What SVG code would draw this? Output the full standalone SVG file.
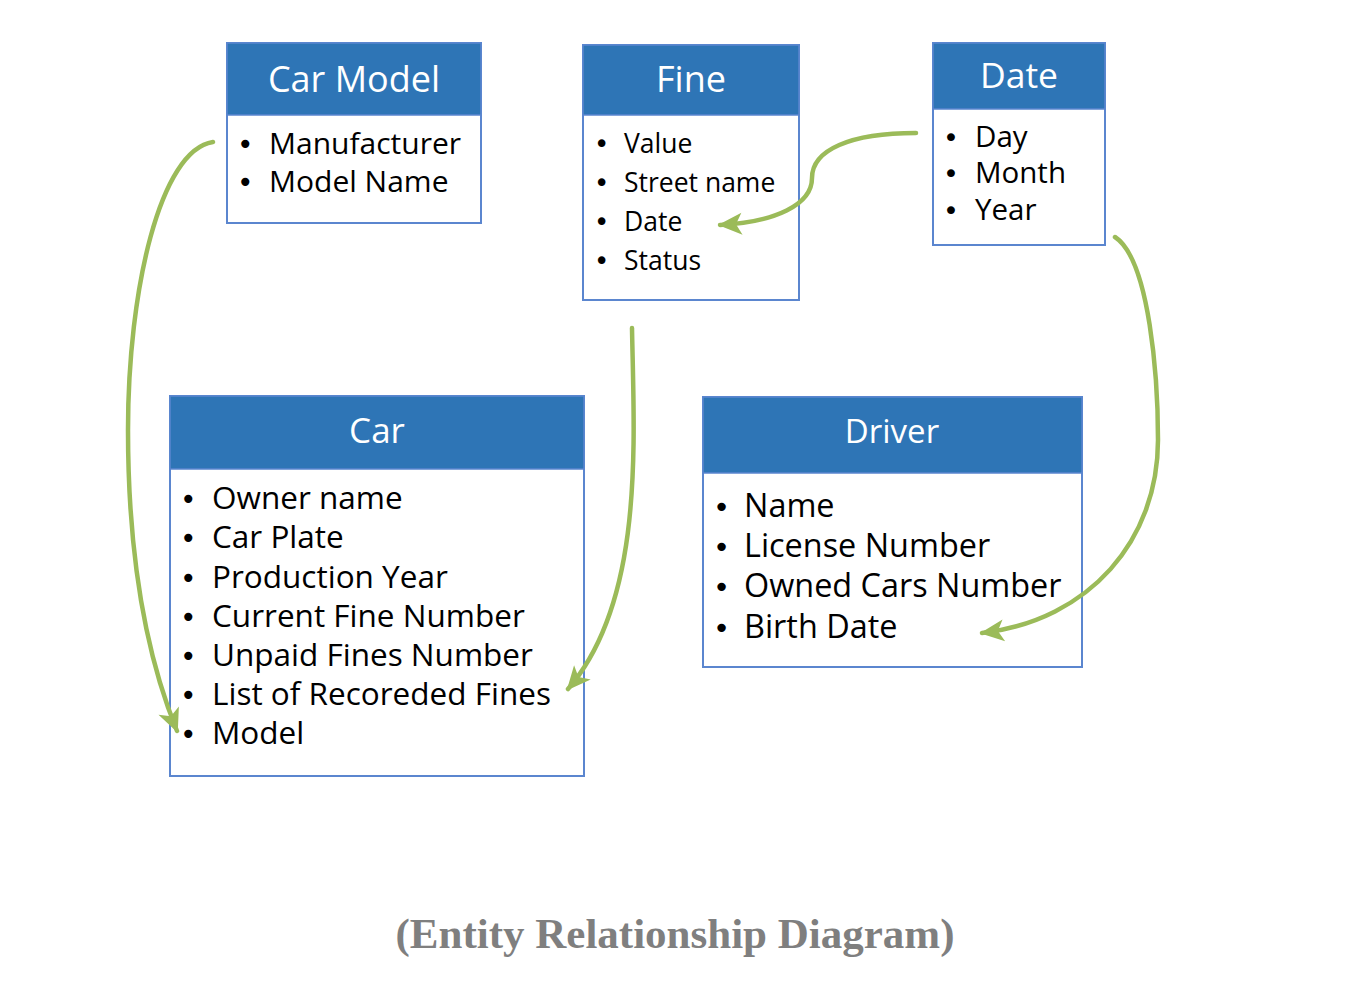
<svg xmlns="http://www.w3.org/2000/svg" width="1350" height="1004" viewBox="0 0 1350 1004">
<style>
.box{fill:#ffffff;stroke:#5B86CF;stroke-width:2}
.hdr{fill:#2E75B6;stroke:#5B86CF;stroke-width:1.5}
.ttl{font-family:"Open Sans","Noto Sans",sans-serif;fill:#ffffff;text-anchor:middle}
.itm{font-family:"Open Sans","Noto Sans",sans-serif;fill:#000000}
.bul{font-family:"DejaVu Sans",sans-serif;fill:#000000}
.con{fill:none;stroke:#9BBB59;stroke-width:4.5;stroke-linecap:round}
.cap{font-family:"Liberation Serif",serif;font-weight:bold;fill:#7F7F7F;text-anchor:middle;font-size:43px}
</style>
<defs>
<marker id="arr" markerUnits="userSpaceOnUse" markerWidth="28" markerHeight="28" viewBox="0 0 28 28" refX="24" refY="14" orient="auto">
<path d="M2 3 L26 14 L2 25 L8 14 Z" fill="#9BBB59"/>
</marker>
</defs>
<rect width="1350" height="1004" fill="#ffffff"/>

<g id="car-model">
<rect class="box" x="227" y="43" width="254" height="180"/>
<rect class="hdr" x="227" y="43" width="254" height="72"/>
<text class="ttl" x="354" y="92" font-size="36">Car Model</text>
<g class="bul" font-size="28">
<text x="237" y="154">•</text>
<text x="237" y="192">•</text>
</g>
<g class="itm" font-size="30">
<text x="269" y="154">Manufacturer</text>
<text x="269" y="192">Model Name</text>
</g>
</g>

<g id="fine">
<rect class="box" x="583" y="45" width="216" height="255"/>
<rect class="hdr" x="583" y="45" width="216" height="70"/>
<text class="ttl" x="691" y="92" font-size="36">Fine</text>
<g class="bul" font-size="26">
<text x="594" y="153">•</text>
<text x="594" y="192">•</text>
<text x="594" y="231">•</text>
<text x="594" y="270">•</text>
</g>
<g class="itm" font-size="26.5">
<text x="624" y="153">Value</text>
<text x="624" y="192">Street name</text>
<text x="624" y="231">Date</text>
<text x="624" y="270">Status</text>
</g>
</g>

<g id="date">
<rect class="box" x="933" y="43" width="172" height="202"/>
<rect class="hdr" x="933" y="43" width="172" height="66"/>
<text class="ttl" x="1019" y="88" font-size="35.5">Date</text>
<g class="bul" font-size="27">
<text x="943" y="147">•</text>
<text x="943" y="183">•</text>
<text x="943" y="220">•</text>
</g>
<g class="itm" font-size="29.5">
<text x="975" y="147">Day</text>
<text x="975" y="183">Month</text>
<text x="975" y="220">Year</text>
</g>
</g>

<g id="car">
<rect class="box" x="170" y="396" width="414" height="380"/>
<rect class="hdr" x="170" y="396" width="414" height="73"/>
<text class="ttl" x="377" y="443" font-size="35">Car</text>
<g class="bul" font-size="28">
<text x="180" y="509">•</text>
<text x="180" y="548">•</text>
<text x="180" y="588">•</text>
<text x="180" y="627">•</text>
<text x="180" y="666">•</text>
<text x="180" y="705">•</text>
<text x="180" y="744">•</text>
</g>
<g class="itm" font-size="31.5">
<text x="212" y="509">Owner name</text>
<text x="212" y="548">Car Plate</text>
<text x="212" y="588">Production Year</text>
<text x="212" y="627">Current Fine Number</text>
<text x="212" y="666">Unpaid Fines Number</text>
<text x="212" y="705">List of Recoreded Fines</text>
<text x="212" y="744">Model</text>
</g>
</g>

<g id="driver">
<rect class="box" x="703" y="397" width="379" height="270"/>
<rect class="hdr" x="703" y="397" width="379" height="76"/>
<text class="ttl" x="892" y="443" font-size="33">Driver</text>
<g class="bul" font-size="29">
<text x="713" y="517">•</text>
<text x="713" y="557">•</text>
<text x="713" y="597">•</text>
<text x="713" y="638">•</text>
</g>
<g class="itm" font-size="32.4">
<text x="744" y="517">Name</text>
<text x="744" y="557">License Number</text>
<text x="744" y="597">Owned Cars Number</text>
<text x="744" y="638">Birth Date</text>
</g>
</g>

<g id="connectors">
<path class="con" marker-end="url(#arr)" d="M 213 142 C 160 150, 128 290, 128 430 C 128 560, 148 660, 177 731"/>
<path class="con" marker-end="url(#arr)" d="M 632 328 C 634 440, 645 600, 568 689"/>
<path class="con" marker-end="url(#arr)" d="M 916 133 C 850 133, 812 150, 812 178 C 812 205, 775 222, 720 225"/>
<path class="con" marker-end="url(#arr)" d="M 1115 237 C 1150 260, 1158 380, 1158 440 C 1158 540, 1090 620, 982 633"/>
</g>

<text class="cap" x="675" y="948">(Entity Relationship Diagram)</text>
</svg>
